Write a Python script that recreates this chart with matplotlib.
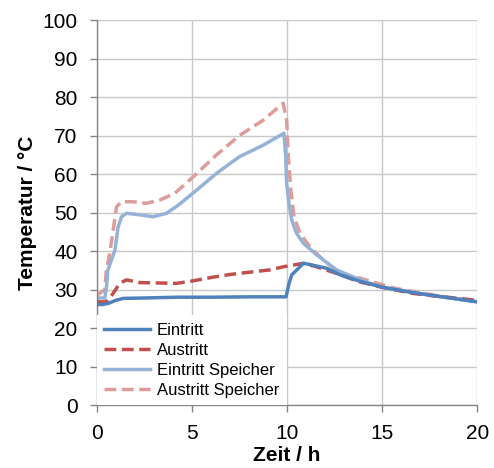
import matplotlib
matplotlib.use("Agg")
import matplotlib.pyplot as plt

plt.rcParams['font.family'] = ['Liberation Sans', 'DejaVu Sans']

# Zeit / h und Temperatur / °C der vier Messstellen
t_ein = [0, 0.3, 0.6, 1.0, 1.4, 2.5, 4.2, 6, 8, 9.95, 10.1, 10.25, 10.6, 10.86, 11.2, 12.1, 12.8, 13.8, 15, 16.5, 18, 20]
ein = [26.1, 26.1, 26.4, 27.2, 27.7, 27.8, 28.0, 28.0, 28.1, 28.1, 31.5, 33.8, 35.5, 36.8, 36.5, 35.5, 33.8, 32.2, 30.6, 29.3, 28.2, 26.8]

t_aus = [0, 0.5, 0.86, 1.2, 1.56, 2.26, 4.2, 5, 6.1, 7, 8.2, 9.1, 9.8, 10.86, 11.56, 12.6, 13.8, 15, 16.6, 18, 20]
aus = [26.8, 26.8, 29.0, 31.6, 32.5, 31.8, 31.6, 32.2, 33.2, 33.9, 34.6, 35.1, 35.9, 36.8, 35.9, 34.2, 32.0, 30.6, 29.0, 28.2, 27.2]

t_ein_sp = [0, 0.42, 0.51, 0.58, 0.77, 0.95, 1.12, 1.3, 1.56, 2.26, 2.95, 3.66, 4.28, 5.05, 6.3, 7.5, 8.75, 9.84,
            9.93, 9.98, 10.1, 10.25, 10.5, 10.86, 11.56, 12.6, 13.8, 15, 17.4, 20]
ein_sp = [27.8, 27.8, 30.7, 35.0, 37.7, 40.2, 46.3, 48.9, 49.8, 49.4, 48.9, 49.8, 51.9, 55.0, 60.2, 64.5, 67.5, 70.6,
          64.5, 57.6, 52.4, 48.0, 44.6, 42.0, 39.0, 35.1, 32.6, 30.6, 28.6, 26.8]

t_aus_sp = [0, 0.42, 0.5, 0.68, 0.86, 1.04, 1.3, 1.9, 2.6, 3.3, 4.1, 5.05, 6.3, 7.5, 8.75, 9.8,
            9.98, 10.07, 10.2, 10.37, 10.68, 11.2, 11.9, 12.8, 13.8, 15.6, 17.4, 20]
aus_sp = [28.5, 29.9, 35.0, 39.4, 45.5, 51.5, 52.8, 52.8, 52.4, 53.2, 55.0, 59.2, 65.0, 70.0, 74.0, 78.4,
          74.0, 64.5, 55.8, 48.9, 44.6, 41.1, 37.7, 34.2, 33.0, 30.4, 28.8, 26.8]

labels = ["Eintritt", "Austritt", "Eintritt Speicher", "Austritt Speicher"]
x_ticks = [0, 5, 10, 15, 20]
y_ticks = [0, 10, 20, 30, 40, 50, 60, 70, 80, 90, 100]

fig = plt.figure(figsize=(4.94, 4.68), dpi=100)
ax = fig.add_axes([0.196, 0.1346, 0.77, 0.8226])

lw = 2.5
dashes = (3.4, 1.6)
ax.plot(t_ein, ein, color='#4F81BD', lw=lw, label=labels[0], zorder=4)
ax.plot(t_aus, aus, color='#C0504D', lw=lw, ls='--', dashes=dashes, label=labels[1], zorder=3)
ax.plot(t_ein_sp, ein_sp, color='#95B3D7', lw=lw, label=labels[2], zorder=2)
ax.plot(t_aus_sp, aus_sp, color='#DE9C9A', lw=lw, ls='--', dashes=dashes, label=labels[3], zorder=1)

ax.set_xlim(0, 20)
ax.set_ylim(0, 100)
ax.set_xticks(x_ticks)
ax.set_yticks(y_ticks)
ax.grid(True, color='#C8C8C8', lw=1.0)
ax.set_axisbelow(True)

for side in ['top', 'right']:
    ax.spines[side].set_visible(False)
for side in ['left', 'bottom']:
    ax.spines[side].set_color('#868686')
    ax.spines[side].set_linewidth(1.0)
ax.tick_params(axis='both', direction='out', length=5, width=1.0, color='#868686',
               labelsize=15, labelcolor='black')
ax.tick_params(axis='x', pad=9)
ax.tick_params(axis='y', pad=9)

ax.set_xlabel('Zeit / h', fontsize=15, fontweight='bold', labelpad=2)
ax.set_ylabel('Temperatur / °C', fontsize=15, fontweight='bold', labelpad=4)

leg = ax.legend(loc='lower left', bbox_to_anchor=(0.0, 0.0), fontsize=12, frameon=True,
                fancybox=False, framealpha=1.0, edgecolor='white', handlelength=2.75,
                handletextpad=0.4, labelspacing=0.3, borderpad=0.45, borderaxespad=0.0)
leg.get_frame().set_linewidth(0)

fig.savefig('out.png', dpi=100)
